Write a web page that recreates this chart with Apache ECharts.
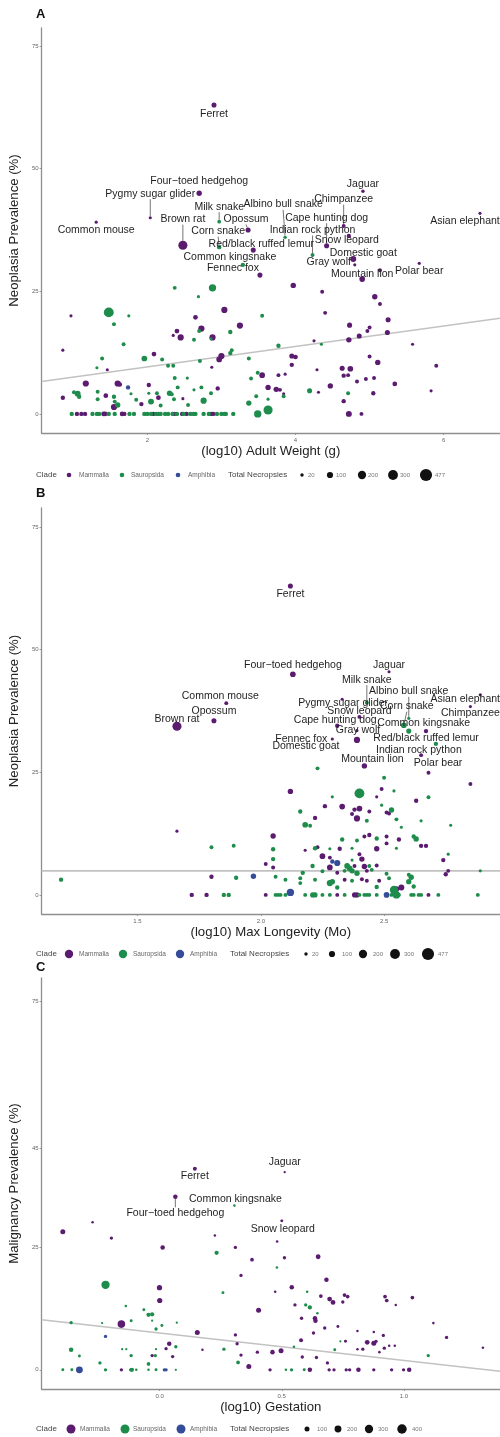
<!DOCTYPE html>
<html>
<head>
<meta charset="utf-8">
<script src="https://cdn.jsdelivr.net/npm/echarts@6/dist/echarts.min.js"></script>
<style>
html,body{margin:0;padding:0;background:#ffffff;}
#chart{width:500px;height:1437px;}
</style>
</head>
<body>
<div id="chart"></div>
<script>
// ---------- Panel A: neoplasia prevalence vs (log10) adult weight ----------
// rows: [log10 adult weight, neoplasia prevalence %, total necropsies]
const weightMammalia = [
  [0.97,20.0,15],[0.86,13.0,15],[1.46,9.0,15],[1.17,6.2,100],[0.86,3.3,40],[1.44,3.7,50],[1.60,6.2,100],[1.63,6.0,40],
  [1.55,1.4,100],[1.92,2.0,40],[2.09,12.2,50],[2.02,5.9,40],[2.15,3.3,50],[2.48,3.1,15],[2.65,19.7,50],[2.40,16.9,50],
  [2.35,16.0,15],[2.45,15.6,100],[2.73,17.4,100],[3.04,21.2,100],[2.88,15.6,100],[3.25,18.0,100],[2.87,9.5,15],[3.00,11.8,100],
  [2.97,11.1,80],[2.95,5.2,40],
  [3.97,26.2,70],[4.36,24.9,30],[4.40,20.6,30],[4.73,18.1,60],[5.07,23.9,70],[5.14,22.4,30],[5.25,19.2,60],[5.24,16.6,60],
  [5.00,17.6,30],[4.97,16.9,30],[4.86,15.9,60],[4.72,15.1,70],[4.25,14.9,15],[5.58,14.2,15],[3.95,11.8,60],[4.00,11.6,50],
  [3.95,10.0,40],[5.00,11.7,30],[5.11,10.5,70],[5.90,9.8,30],[3.55,7.9,80],[3.77,7.9,30],[3.86,8.1,15],[4.29,9.0,15],
  [4.63,9.3,60],[4.74,9.2,80],[4.65,7.8,40],[4.71,7.9,30],[4.95,7.1,30],[4.83,6.6,30],[5.06,7.3,30],[4.47,5.7,70],
  [5.34,6.1,50],[3.63,5.4,70],[3.74,5.0,70],[3.79,4.9,30],[3.84,4.1,15],[4.31,4.4,15],[5.05,4.2,40],[5.83,4.7,15],
  [4.65,2.6,40],[5.14,29.3,30],[4.72,0,90],[4.89,0,30],
  [1.05,0,40],[1.11,0,40],[1.16,0,40],[1.41,0,50],[1.43,0,50],[1.66,0,50],[1.69,0,40],[2.08,0,40],[2.37,0,40],
  [2.47,0,40],[2.53,0,40],[2.86,0,40],[2.89,0,40]
];
const weightSauropsida = [
  [1.48,20.7,300],[1.55,18.3,30],[1.75,20.0,15],[1.68,14.2,30],[1.39,11.3,30],[1.32,9.4,15],[1.01,4.4,30],[1.06,4.1,90],
  [1.08,3.5,40],[1.33,4.5,30],[1.33,3.0,30],[1.55,3.5,40],[1.78,4.1,15],[1.56,2.5,30],[1.60,1.8,70],[1.85,2.9,30],
  [1.96,11.3,80],[2.05,2.5,90],[2.02,4.2,15],[2.13,4.2,30],[2.20,11.1,30],[2.28,9.8,30],[2.35,9.8,30],[2.18,1.7,30],
  [2.30,4.2,70],[2.33,4.0,30],[2.36,3.0,30],[2.37,7.3,30],[2.41,5.4,30],[2.54,7.3,15],[2.55,1.8,30],[2.37,25.7,30],
  [2.69,23.9,15],[2.70,16.9,30],[2.88,25.7,150],[2.86,15.3,15],[2.63,15.1,30],[3.12,16.7,40],[2.71,10.8,30],[3.12,12.4,40],
  [3.14,13.0,30],[2.63,4.9,15],[2.73,5.4,30],[2.76,2.7,100],[2.86,4.2,30],[3.37,2.2,70],[3.40,7.2,30],[3.37,11.3,30],
  [3.55,20.0,30],[3.77,13.9,40],[4.35,14.2,15],[3.49,8.4,30],[3.47,3.6,30],[3.84,3.6,30],[3.63,3.0,15],[4.19,4.7,60],
  [4.71,4.2,30],[3.49,0,150],[3.63,0.8,250],
  [0.98,0,40],[1.26,0,40],[1.32,0,40],[1.35,0,40],[1.48,0,40],[1.56,0,40],[1.76,0,40],[1.82,0,40],[1.96,0,40],
  [2.00,0,40],[2.05,0,40],[2.12,0,40],[2.15,0,40],[2.18,0,40],[2.24,0,40],[2.28,0,40],[2.34,0,40],[2.40,0,40],
  [2.49,0,40],[2.58,0,40],[2.62,0,40],[2.65,0,40],[2.76,0,40],[2.83,0,40],[2.94,0,40],[3.00,0,40],[3.04,0,40],
  [3.06,0,40],[3.16,0,40]
];
const weightAmphibia = [
  [1.74,5.4,40]
];
// named species: [name, clade, log10 adult weight, prevalence %, necropsies]
const weightNamed = [
  ['Ferret','Mammalia',2.90,63.0,60],
  ['Four\u2212toed hedgehog','Mammalia',2.70,45.0,70],
  ['Pygmy sugar glider','Mammalia',2.04,40.0,15],
  ['Common mouse','Mammalia',1.31,39.1,15],
  ['Brown rat','Mammalia',2.48,34.4,250],
  ['Milk snake','Sauropsida',2.97,39.2,25],
  ['Opossum','Mammalia',3.36,37.5,60],
  ['Corn snake','Sauropsida',2.97,34.0,40],
  ['Albino bull snake','Sauropsida',3.86,36.0,20],
  ['Red/black ruffed lemur','Mammalia',3.43,33.4,60],
  ['Common kingsnake','Sauropsida',3.29,30.4,40],
  ['Fennec fox','Mammalia',3.52,28.3,60],
  ['Jaguar','Mammalia',4.91,45.4,20],
  ['Chimpanzee','Mammalia',4.65,38.3,30],
  ['Asian elephant','Mammalia',6.49,40.9,15],
  ['Cape hunting dog','Mammalia',4.42,34.3,60],
  ['Indian rock python','Sauropsida',4.23,32.4,30],
  ['Snow leopard','Mammalia',4.72,36.3,40],
  ['Domestic goat','Mammalia',4.78,31.6,90],
  ['Gray wolf','Mammalia',4.80,30.4,15],
  ['Mountain lion','Mammalia',4.90,27.5,80],
  ['Polar bear','Mammalia',5.67,30.7,15]
];
const weightFit = [[0.573,6.6],[6.76,19.5]];
const weightTicksX = [2,4,6];
const weightTicksY = [0,25,50,75];

// ---------- Panel B: neoplasia prevalence vs (log10) max longevity ----------
const longevityMammalia = [
  [1.66,13.0,15],[1.80,3.7,40],[1.72,0,40],[1.78,0,40],
  [2.85,22.6,30],[2.12,21.1,70],[2.49,21.6,30],[2.47,20.0,15],[2.63,19.2,40],[2.26,18.1,40],[2.33,18.0,80],[2.40,17.6,80],
  [2.38,17.4,40],[2.44,17.0,30],[2.51,16.8,30],[2.52,16.6,30],[2.37,16.5,30],[2.22,15.7,40],[2.39,15.6,100],
  [2.05,12.0,70],[2.44,12.2,40],[2.42,11.9,30],[2.51,11.9,30],[2.56,11.3,40],[2.51,10.5,30],[2.23,9.7,30],[2.18,9.1,15],
  [2.32,9.4,40],[2.47,9.4,70],[2.65,10.0,40],[2.67,10.0,40],[2.74,7.1,40],[2.25,7.9,80],[2.28,7.6,30],[2.40,8.3,30],
  [2.41,7.3,70],[2.28,5.6,80],[2.02,6.3,30],[2.05,5.6,30],[2.38,5.9,30],[2.42,5.8,70],[2.47,6.0,30],[2.31,4.5,30],
  [2.43,4.9,30],[2.75,4.2,40],[2.76,4.9,30],[2.34,3.1,30],[2.41,3.2,30],[2.43,2.9,30],[2.48,2.9,30],[2.55,1.2,80],
  [2.57,1.5,90],[2.68,24.9,30],
  [2.02,0,30],[2.31,0,30],[2.38,0,60],[2.39,0,60],[2.68,0,30]
];
const longevitySauropsida = [
  [1.80,9.7,30],[1.89,10.0,30],[1.19,3.1,40],[1.90,3.5,40],[1.85,0,40],[1.87,0,40],
  [2.23,25.8,30],[2.50,23.9,30],[2.54,21.2,15],[2.40,20.7,300],[2.29,20.0,15],[2.68,19.9,30],[2.16,17.0,40],[2.49,18.3,15],
  [2.53,17.3,70],[2.43,15.1,30],[2.55,15.4,30],[2.65,15.1,15],[2.18,14.3,80],[2.20,14.1,30],[2.57,13.8,15],[2.77,14.2,15],
  [2.47,11.5,40],[2.62,11.9,40],[2.63,11.4,70],[2.33,11.3,40],[2.39,11.1,30],[2.22,9.5,40],[2.28,9.4,15],[2.05,9.3,40],
  [2.37,9.5,15],[2.55,9.5,15],[2.76,8.3,15],[2.37,7.1,15],[2.05,7.3,40],[2.21,5.9,40],[2.35,5.9,80],[2.36,5.4,80],
  [2.44,5.9,30],[2.17,4.5,40],[2.25,4.8,30],[2.34,4.9,30],[2.37,4.9,70],[2.39,4.4,70],[2.45,5.1,30],[2.51,4.3,30],
  [2.60,4.1,30],[2.61,3.6,70],[2.89,4.9,15],[2.06,3.7,30],[2.10,3.1,30],[2.16,3.4,30],[2.16,2.4,30],[2.22,3.1,30],
  [2.28,2.4,100],[2.29,2.7,70],[2.31,1.5,40],[2.37,2.9,30],[2.47,1.6,40],[2.52,3.4,30],[2.54,1.0,200],[2.60,2.7,70],
  [2.62,1.7,40],
  [2.06,0,30],[2.07,0,30],[2.08,0,30],[2.10,0,30],[2.18,0,30],[2.21,0,60],[2.22,0,60],[2.25,0,30],[2.28,0,30],
  [2.34,0,30],[2.40,0,30],[2.42,0,30],[2.43,0,30],[2.44,0,30],[2.47,0,30],[2.53,0,30],[2.55,0,150],[2.56,0,30],
  [2.61,0,30],[2.62,0,30],[2.64,0,30],[2.65,0,30],[2.72,0,30],[2.88,0,30]
];
const longevityAmphibia = [
  [1.97,3.8,70],[2.12,0.5,150],[2.31,6.5,100],[2.29,6.8,40],[2.51,0,80]
];
const longevityNamed = [
  ['Ferret','Mammalia',2.12,63.0,60],
  ['Four\u2212toed hedgehog','Mammalia',2.13,45.0,80],
  ['Jaguar','Mammalia',2.52,45.5,15],
  ['Milk snake','Sauropsida',2.43,39.2,30],
  ['Pygmy sugar glider','Mammalia',2.33,39.9,15],
  ['Asian elephant','Mammalia',2.89,40.8,15],
  ['Chimpanzee','Mammalia',2.85,38.4,15],
  ['Albino bull snake','Sauropsida',2.60,36.0,15],
  ['Corn snake','Sauropsida',2.58,34.6,80],
  ['Common kingsnake','Sauropsida',2.60,33.4,60],
  ['Red/black ruffed lemur','Mammalia',2.67,33.4,40],
  ['Snow leopard','Mammalia',2.40,36.3,30],
  ['Cape hunting dog','Mammalia',2.31,34.5,40],
  ['Gray wolf','Mammalia',2.39,33.5,15],
  ['Fennec fox','Mammalia',2.29,31.8,15],
  ['Domestic goat','Mammalia',2.39,31.6,100],
  ['Indian rock python','Sauropsida',2.71,30.8,40],
  ['Mountain lion','Mammalia',2.42,26.3,70],
  ['Polar bear','Mammalia',2.65,28.5,30],
  ['Common mouse','Mammalia',1.86,39.1,30],
  ['Opossum','Mammalia',1.81,35.5,60],
  ['Brown rat','Mammalia',1.66,34.4,250]
];
const longevityFit = [[1.111,4.9],[2.97,4.9]];
const longevityTicksX = [1.5,2.0,2.5];
const longevityTicksY = [0,25,50,75];

// ---------- Panel C: malignancy prevalence vs (log10) gestation ----------
const gestationMammalia = [
  [-0.397,28.1,100],[-0.275,30.0,20],[-0.198,26.8,40],[0.012,24.9,80],[0.226,27.3,20],[0.310,24.9,40],[0.481,26.1,20],
  [0.511,22.8,40],[0.378,22.4,50],[0.649,23.0,90],[0.333,19.2,40],[0.683,18.3,80],[-0.001,16.7,110],[0.0,14.1,110],
  [0.473,15.9,20],[0.541,16.8,80],[0.66,15.0,50],[0.696,14.4,90],[0.71,13.7,90],[0.757,15.2,50],[0.77,14.9,50],
  [0.75,13.8,40],[0.923,14.9,50],[0.93,14.1,50],[0.967,13.2,20],[1.035,14.7,50],[-0.157,9.3,250],[0.405,12.1,100],
  [0.554,13.2,40],[0.581,10.5,40],[0.636,10.5,80],[0.638,10.0,80],[0.63,7.5,40],[0.676,8.5,40],[0.73,8.8,30],
  [0.81,7.9,20],[0.877,7.7,20],[0.916,7.0,40],[1.121,9.5,20],[1.175,6.6,40],[1.324,4.5,20],[0.154,7.6,100],
  [0.310,7.1,40],[0.317,5.3,40],[0.579,6.0,60],[0.761,5.8,30],[0.877,5.4,100],[0.85,5.6,90],[0.832,4.2,40],
  [0.81,4.2,20],[0.886,5.8,40],[0.90,3.6,20],[0.92,4.4,40],[0.94,4.9,20],[0.963,4.9,20],[0.497,3.9,100],
  [0.462,3.6,80],[0.40,3.6,40],[0.333,3.0,40],[0.175,4.1,20],[0.039,5.3,80],[0.026,4.3,40],[0.053,2.7,40],
  [-0.031,2.9,40],[0.365,0.7,100],[0.584,2.6,40],[0.642,2.5,40],[0.687,1.4,40],
  [-0.157,0,40],[0.452,0,40],[0.615,0,80],[0.694,0,40],[0.714,0,40],[0.764,0,40],[0.778,0,40],[0.814,0,80],
  [0.877,0,40],[0.95,0,40],[0.999,0,40],[1.022,0,80]
];
const gestationSauropsida = [
  [0.233,23.8,70],[0.480,20.8,20],[-0.222,17.3,300],[0.259,15.7,30],[0.604,15.9,20],[-0.139,13.0,20],[-0.065,12.2,30],
  [-0.046,11.2,70],[-0.031,11.3,70],[-0.031,10.0,15],[-0.117,10.0,30],[-0.236,9.5,15],[-0.363,9.6,40],[0.009,9.0,30],
  [-0.015,8.3,40],[0.07,9.6,15],[0.598,13.2,40],[0.615,12.7,70],[0.646,11.5,20],[0.74,5.8,15],[0.717,4.1,30],
  [0.55,4.7,20],[0.263,4.2,40],[0.066,4.7,40],[-0.018,2.9,40],[-0.015,4.2,15],[-0.117,2.9,40],[-0.154,4.2,15],
  [-0.137,4.2,15],[-0.329,2.8,30],[-0.363,4.1,80],[-0.245,1.4,40],[-0.046,1.2,50],[0.321,1.5,50],[1.100,2.9,40],
  [-0.397,0,30],[-0.36,0,30],[-0.222,0,40],[-0.119,0,40],[-0.114,0,70],[-0.096,0,20],[-0.046,0,20],[-0.015,0,30],
  [0.066,0,15],[0.517,0,20],[0.54,0,40],[0.592,0,30]
];
const gestationAmphibia = [
  [-0.222,6.8,40],[-0.329,0,200],[0.019,0,40],[0.026,0,40]
];
const gestationNamed = [
  ['Ferret','Mammalia',0.144,40.9,60],
  ['Jaguar','Mammalia',0.512,40.2,15],
  ['Four\u2212toed hedgehog','Mammalia',0.064,35.2,80],
  ['Common kingsnake','Sauropsida',0.306,33.4,20],
  ['Snow leopard','Mammalia',0.50,30.3,30]
];
const gestationFit = [[-0.484,10.2],[1.394,-0.3]];
const gestationTicksX = [0.0,0.5,1.0];
const gestationTicksY = [0,25,45,75];

const cladeNames = ['Mammalia','Sauropsida','Amphibia'];
const necropsyKeysAB = [20,100,200,300,477];
const necropsyKeysC = [100,200,300,400];

// ---------- styling / layout ----------
const FONT = '"Liberation Sans", Arial, Helvetica, sans-serif';
const cladeColor = {Mammalia:'#5b1c70', Sauropsida:'#1e8c4b', Amphibia:'#354c9a'};
const sizeAB = n => 1.2 + 0.5 * Math.sqrt(n);
const sizeC = n => 0.5 + 0.45 * Math.sqrt(n);

// label centre offsets from the point (px); third entry draws a connector
const labelOffsets = [
  { // A
    'Ferret':[0,9],'Four\u2212toed hedgehog':[0,-12],'Pygmy sugar glider':[0,-24,1],'Common mouse':[0,8],
    'Brown rat':[0,-26,1],'Milk snake':[0,-15,1],'Opossum':[-2,-11,1],'Corn snake':[-1,-16,1],
    'Albino bull snake':[-2,-33,1],'Red/black ruffed lemur':[8,-6],'Common kingsnake':[-13,-8],'Fennec fox':[-27,-7],
    'Jaguar':[0,-7],'Chimpanzee':[0,-27,1],'Asian elephant':[-15,8],'Cape hunting dog':[0,-28,1],
    'Indian rock python':[0,-25,1],'Snow leopard':[-2,4],'Domestic goat':[10,-6],'Gray wolf':[-26,-3],
    'Mountain lion':[0,-5],'Polar bear':[0,8]
  },
  { // B
    'Ferret':[0,8],'Four\u2212toed hedgehog':[0,-9],'Jaguar':[0,-7],'Milk snake':[0,-23,1],'Pygmy sugar glider':[1,4],
    'Asian elephant':[-15,4],'Chimpanzee':[0,7],'Albino bull snake':[0,-27,1],'Corn snake':[3,-19,1],
    'Common kingsnake':[15,-8],'Red/black ruffed lemur':[0,7],'Snow leopard':[0,-6],'Cape hunting dog':[-2,-6],
    'Gray wolf':[1,-1],'Fennec fox':[-31,0],'Domestic goat':[-51,6],'Indian rock python':[-17,6],
    'Mountain lion':[8,-7],'Polar bear':[17,8],'Common mouse':[-6,-7],'Opossum':[0,-10],'Brown rat':[0,-7]
  },
  { // C
    'Ferret':[0,7],'Jaguar':[0,-10],'Four\u2212toed hedgehog':[0,16,1],'Common kingsnake':[1,-7],'Snow leopard':[1,8]
  }
];

const panels = [
  {pts:[weightMammalia, weightSauropsida, weightAmphibia], named:weightNamed, fit:weightFit, size:sizeAB,
   xMin:0.573, xMax:6.76, yMin:-3.9, yMax:78.7, xt:weightTicksX, yt:weightTicksY, xf:v=>String(v),
   grid:{left:36, top:28, width:464, height:405},
   xName:'(log10) Adult Weight (g)', yName:'Neoplasia Prevalence (%)'},
  {pts:[longevityMammalia, longevitySauropsida, longevityAmphibia], named:longevityNamed, fit:longevityFit, size:sizeAB,
   xMin:1.111, xMax:2.97, yMin:-3.9, yMax:78.9, xt:longevityTicksX, yt:longevityTicksY, xf:v=>v.toFixed(1),
   grid:{left:36, top:508, width:464, height:406},
   xName:'(log10) Max Longevity (Mo)', yName:'Neoplasia Prevalence (%)'},
  {pts:[gestationMammalia, gestationSauropsida, gestationAmphibia], named:gestationNamed, fit:gestationFit, size:sizeC,
   xMin:-0.484, xMax:1.394, yMin:-3.9, yMax:79.7, xt:gestationTicksX, yt:gestationTicksY, xf:v=>v.toFixed(1),
   grid:{left:38, top:978, width:462, height:411},
   xName:'(log10) Gestation', yName:'Malignancy Prevalence (%)'}
];

const grids = [], xAxes = [], yAxes = [], series = [];
const axisLineStyle = {color:'#8e8e8e', width:1.3};

panels.forEach((p, i) => {
  grids.push(Object.assign({containLabel:false}, p.grid));
  xAxes.push({
    type:'value', gridIndex:i, min:p.xMin, max:p.xMax,
    axisLine:{show:true, onZero:false, lineStyle:axisLineStyle},
    axisTick:{show:true, length:2, lineStyle:{color:'#888', width:0.8}, customValues:p.xt},
    axisLabel:{show:true, customValues:p.xt, formatter:p.xf, fontSize:6, color:'#666', margin:4, fontFamily:FONT},
    splitLine:{show:false},
    name:p.xName, nameLocation:'middle', nameGap:12,
    nameTextStyle:{fontSize:13.2, color:'#222', fontFamily:FONT}
  });
  yAxes.push({
    type:'value', gridIndex:i, min:p.yMin, max:p.yMax,
    axisLine:{show:true, onZero:false, lineStyle:axisLineStyle},
    axisTick:{show:true, length:2, lineStyle:{color:'#888', width:0.8}, customValues:p.yt},
    axisLabel:{show:true, customValues:p.yt, fontSize:6, color:'#666', margin:3, fontFamily:FONT},
    splitLine:{show:false},
    name:p.yName, nameLocation:'middle', nameGap:15, nameRotate:90,
    nameTextStyle:{fontSize:13.2, color:'#222', fontFamily:FONT}
  });
  // fitted trend
  series.push({
    type:'line', xAxisIndex:i, yAxisIndex:i, data:p.fit, symbol:'none', silent:true, z:1,
    lineStyle:{color:'#c2c2c2', width:1.6}, animation:false
  });
  cladeNames.forEach((clade, c) => {
    const data = p.pts[c].map(v => ({value:v}));
    p.named.filter(r => r[1] === clade).forEach(r => {
      const off = labelOffsets[i][r[0]];
      data.push({
        name:r[0], value:[r[2], r[3], r[4]],
        label:{show:true},
        labelLine:{show:!!(off && off[2])}
      });
    });
    series.push({
      type:'scatter', name:clade, xAxisIndex:i, yAxisIndex:i, data:data, z:2,
      symbolSize:v => p.size(v[2]),
      itemStyle:{color:cladeColor[clade], opacity:1},
      label:{show:false, position:'inside', formatter:'{b}', color:'#1e1e1e', fontSize:10.5, fontFamily:FONT},
      labelLine:{show:false, lineStyle:{color:'#3a3a3a', width:0.7}},
      labelLayout:params => {
        const d = data[params.dataIndex];
        if (!d || !d.name) return {};
        const off = labelOffsets[i][d.name] || [0,0];
        return {dx:off[0], dy:off[1]};
      },
      emphasis:{disabled:true}, animation:false
    });
  });
});

// ---------- panel letters and legends ----------
const graphics = [];
[['A',16],['B',495],['C',969]].forEach(([t, y]) => {
  graphics.push({type:'text', left:36, top:y - 8, style:{text:t, fontSize:13, fontWeight:'bold', fill:'#111', fontFamily:FONT}});
});
function legendRow(y, dotR, cladeX, sizeKeys, sizeX, sizeLabelX, sizeFn, totalX) {
  const txt = (x, s, fs, col) => graphics.push({type:'text', x:x, y:y, style:{text:s, fontSize:fs, fill:col, fontFamily:FONT, verticalAlign:'middle'}});
  txt(36, 'Clade', 8, '#444');
  cladeNames.forEach((c, k) => {
    graphics.push({type:'circle', shape:{cx:cladeX[k][0], cy:y, r:dotR}, style:{fill:cladeColor[c]}});
    txt(cladeX[k][1], c, 6.5, '#666');
  });
  txt(totalX, 'Total Necropsies', 8, '#444');
  sizeKeys.forEach((n, k) => {
    graphics.push({type:'circle', shape:{cx:sizeX[k], cy:y, r:sizeFn(n) / 2}, style:{fill:'#111'}});
    txt(sizeLabelX[k], String(n), 6, '#777');
  });
}
legendRow(475, 2.3, [[69,79],[122,131],[178,188]], necropsyKeysAB, [302,330,362,393,426], [308,336,368,400,435], sizeAB, 228);
legendRow(954, 4.2, [[69,79],[123,133],[180,190]], necropsyKeysAB, [306,332,363,395,428], [312,342,373,404,438], sizeAB, 230);
legendRow(1429, 4.5, [[71,80],[125,133],[181,190]], necropsyKeysC, [307,338,369,402], [317,347,378,412], sizeC, 230);

const chart = echarts.init(document.getElementById('chart'), null, {renderer:'canvas', width:500, height:1437});
chart.setOption({
  backgroundColor:'#ffffff',
  animation:false,
  grid:grids, xAxis:xAxes, yAxis:yAxes, series:series, graphic:graphics
});
</script>
</body>
</html>
